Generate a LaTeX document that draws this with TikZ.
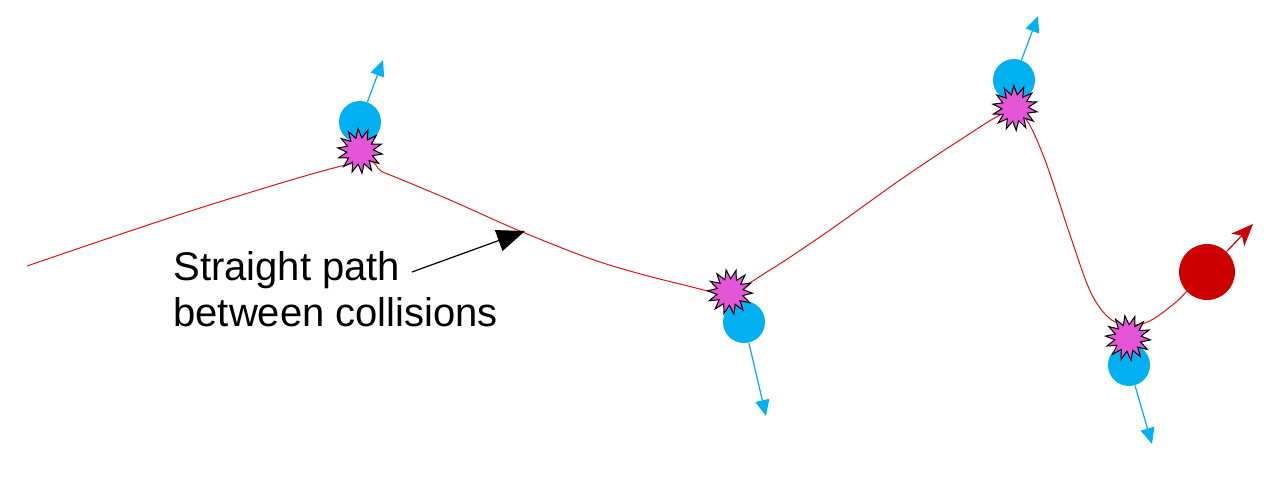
\documentclass[tikz,border=0pt]{standalone}
\usepackage{fontspec}
\setmainfont{Liberation Sans}
\usetikzlibrary{shapes.geometric,arrows.meta}
\definecolor{pathred}{RGB}{225,20,20}
\definecolor{ballblue}{RGB}{0,176,240}
\definecolor{ballred}{RGB}{204,0,0}
\definecolor{starpink}{RGB}{228,85,215}
\begin{document}
\begin{tikzpicture}[x=0.5pt,y=-0.5pt,
  blueball/.style={circle,fill=ballblue,minimum size=21pt,inner sep=0pt},
  redball/.style={circle,fill=ballred,minimum size=28pt,inner sep=0pt},
  burst/.style={star,star points=14,star point ratio=1.7,minimum size=22.5pt,inner sep=0pt,fill=starpink,draw=black,line width=0.5pt},
  bluearrow/.style={draw=ballblue,line width=0.6pt,-{Triangle[length=8pt,width=7pt]}},
  redarrow/.style={draw=ballred,line width=0.6pt,-{Stealth[length=11pt,width=9pt,inset=3pt]}},
  trail/.style={draw=pathred,line width=0.5pt},
  label/.style={font=\fontsize{20}{23}\selectfont,align=left,inner sep=0pt,anchor=north west}
]
\useasboundingbox (0,0) rectangle (1280,487);

% blue balls
\node[blueball] (b1) at (360,122) {};
\node[blueball] (b2) at (744,322) {};
\node[blueball] (b3) at (1014,80) {};
\node[blueball] (b4) at (1129,365) {};
\node[redball] (r) at (1207,272) {};

% arrow tips
\coordinate (t1) at (383,60);
\coordinate (t2) at (766,416);
\coordinate (t3) at (1038,16);
\coordinate (t4) at (1152,444);
\coordinate (tr) at (1253,224);

% red trajectory
\draw[trail] plot[smooth,tension=0.55] coordinates {
 (27,266) (200,208) (355,163) (385,173) (450,200) (520,231) (600,262) (680,284) (728,292)
 (770,270) (830,230) (900,180) (960,140) (1005,113) (1025,118) (1045,160) (1070,235) (1092,295) (1115,322)
 (1145,323) (1175,303) (1192,285)};

% collisions
\node[burst,rotate=5] (s1) at (360,151) {};
\node[burst,rotate=10] (s2) at (730,292) {};
\node[burst,rotate=3] (s3) at (1015,108) {};
\node[burst,rotate=8] (s4) at (1128,338) {};

% velocity arrows
\draw[bluearrow] (b1) -- (t1);
\draw[bluearrow] (b2) -- (t2);
\draw[bluearrow] (b3) -- (t3);
\draw[bluearrow] (b4) -- (t4);
\draw[redarrow] (r) -- (tr);

% label
\node[label] (txt) at (173,251) {Straight path\\between collisions};
\coordinate (lt) at (412,272);
\coordinate (la) at (525,231);
\draw[line width=0.6pt,-{Triangle[length=14pt,width=11pt]}] (lt) -- (la);
\end{tikzpicture}
\end{document}
